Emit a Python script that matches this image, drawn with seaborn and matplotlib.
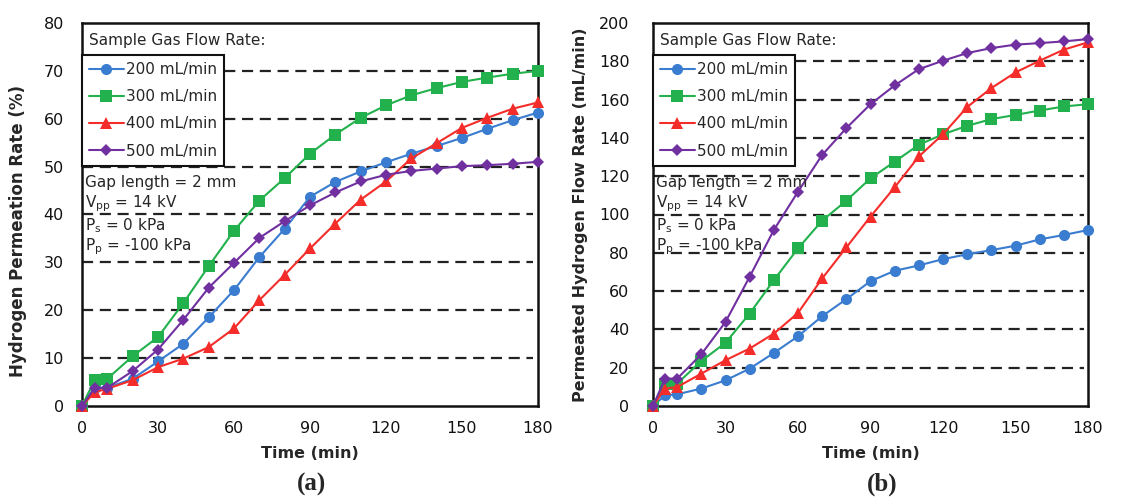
import matplotlib
matplotlib.use("Agg")
import matplotlib.pyplot as plt
import seaborn as sns
import pandas as pd

time_min = [0, 5, 10, 20, 30, 40, 50, 60, 70, 80, 90, 100, 110, 120, 130, 140, 150, 160, 170, 180]
flow_labels = ["200 mL/min", "300 mL/min", "400 mL/min", "500 mL/min"]

# (a) Hydrogen permeation rate (%)
perm_200 = [0, 3.8, 3.8, 5.7, 9.3, 13.0, 18.5, 24.2, 31.1, 37.0, 43.7, 46.8, 49.0, 50.9, 52.7, 54.3, 56.0, 57.9, 59.7, 61.3]
perm_300 = [0, 5.4, 5.7, 10.4, 14.4, 21.5, 29.2, 36.6, 42.9, 47.6, 52.7, 56.7, 60.2, 62.8, 64.9, 66.4, 67.7, 68.6, 69.4, 70.0]
perm_400 = [0, 2.9, 3.6, 5.4, 8.1, 9.9, 12.3, 16.2, 22.1, 27.4, 32.9, 38.1, 43.1, 46.9, 51.7, 54.9, 58.1, 60.2, 62.1, 63.4]
perm_500 = [0, 3.8, 3.8, 7.3, 11.8, 18.0, 24.7, 29.9, 35.1, 38.6, 41.9, 44.6, 46.9, 48.3, 49.1, 49.6, 50.1, 50.3, 50.6, 51.0]

# (b) Permeated hydrogen flow rate (mL/min)
flow_200 = [0, 5.6, 6.1, 9.1, 13.4, 19.5, 27.7, 36.4, 46.9, 55.8, 65.2, 70.6, 73.4, 76.7, 79.2, 81.4, 83.7, 87.0, 89.3, 91.9]
flow_300 = [0, 11.7, 11.7, 23.5, 33.0, 48.3, 65.7, 82.3, 96.8, 107.2, 118.9, 127.6, 136.4, 141.9, 146.3, 149.8, 152.0, 154.3, 156.4, 157.6]
flow_400 = [0, 9.1, 9.9, 16.9, 23.9, 30.0, 37.8, 48.6, 66.6, 82.8, 98.9, 114.2, 130.3, 141.9, 156.1, 166.0, 174.2, 180.3, 186.1, 189.9]
flow_500 = [0, 14.3, 14.3, 27.0, 43.9, 67.5, 91.9, 111.9, 131.1, 145.1, 157.6, 167.4, 175.9, 180.3, 184.3, 186.9, 188.7, 189.5, 190.4, 191.6]

x_ticks = [0, 30, 60, 90, 120, 150, 180]
y_ticks_a = [0, 10, 20, 30, 40, 50, 60, 70, 80]
y_ticks_b = [0, 20, 40, 60, 80, 100, 120, 140, 160, 180, 200]

colors = ["#3a7ccf", "#22b14c", "#f42d2a", "#7030a0"]
markers = ["o", "s", "^", "D"]
msizes = [8, 8.5, 8.5, 6]

sns.set_theme(style="white")
plt.rcParams["font.family"] = ["DejaVu Sans"]

fig = plt.figure(figsize=(11.3, 4.99), dpi=100)
ax_a = fig.add_axes([82 / 1130, 1 - 406 / 499, 456 / 1130, 383 / 499])
ax_b = fig.add_axes([653 / 1130, 1 - 406 / 499, 435 / 1130, 383 / 499])


def draw(ax, series, yticks, ylabel, ypad, ylabpad, ylab_size, ylab_y):
    for vals, lab, c, m, ms in zip(series, flow_labels, colors, markers, msizes):
        df = pd.DataFrame({"Time": time_min, "Value": vals})
        sns.lineplot(data=df, x="Time", y="Value", ax=ax, color=c, marker=m,
                     markersize=ms, markeredgewidth=0, linewidth=1.5,
                     label=lab, zorder=3, clip_on=False)
    ax.set_xlim(0, 180)
    ax.set_ylim(yticks[0], yticks[-1])
    ax.set_xticks(x_ticks)
    ax.set_yticks(yticks)
    ax.tick_params(axis="both", length=0, labelsize=11.5, colors="#111111")
    ax.tick_params(axis="x", pad=11)
    ax.tick_params(axis="y", pad=ypad)
    for gy in yticks[1:-1]:
        ax.axhline(gy, xmin=0, xmax=0.99, color="#222222", lw=1.6,
                   linestyle=(0, (5, 3)), zorder=1)
    for s in ax.spines.values():
        s.set_color("#111111")
        s.set_linewidth(1.8)
    ax.set_xlabel("Time (min)", fontsize=11.5, fontweight="bold", labelpad=7)
    ax.set_ylabel(ylabel, fontsize=ylab_size, fontweight="bold", labelpad=ylabpad)
    ax.yaxis.label.set_y(ylab_y)
    leg = ax.legend(loc="upper left", bbox_to_anchor=(0, 0.916), borderaxespad=0,
                    fontsize=11, frameon=True, fancybox=False, framealpha=1,
                    edgecolor="#111111", handlelength=2.3, handletextpad=0.15,
                    labelspacing=0.8, borderpad=0.45)
    leg.get_frame().set_linewidth(1.5)
    leg.set_zorder(5)
    ax.text(0.015, 0.955, "Sample Gas Flow Rate:", transform=ax.transAxes,
            fontsize=11, va="center", ha="left", zorder=6)
    lines = ["Gap length = 2 mm", r"V$_{\mathregular{pp}}$ = 14 kV",
             r"P$_{\mathregular{s}}$ = 0 kPa", r"P$_{\mathregular{p}}$ = -100 kPa"]
    ys = [183, 204, 226, 247]
    for t, yp in zip(lines, ys):
        ax.text(0.006, (406 - yp) / 383, t, transform=ax.transAxes,
                fontsize=11, va="center", ha="left", zorder=4)


draw(ax_a, [perm_200, perm_300, perm_400, perm_500], y_ticks_a,
     "Hydrogen Permeation Rate (%)", 13, 12, 12, 0.457)
draw(ax_b, [flow_200, flow_300, flow_400, flow_500], y_ticks_b,
     "Permeated Hydrogen Flow Rate (mL/min)", 17, 8, 11.5, 0.5)

fig.text(311 / 1130, 1 - 484 / 499, "(a)", fontsize=18, fontweight="bold",
         family="Liberation Serif", ha="center", va="center")
fig.text(882 / 1130, 1 - 484 / 499, "(b)", fontsize=18, fontweight="bold",
         family="Liberation Serif", ha="center", va="center")

fig.savefig("out.png", dpi=100, facecolor="white")
